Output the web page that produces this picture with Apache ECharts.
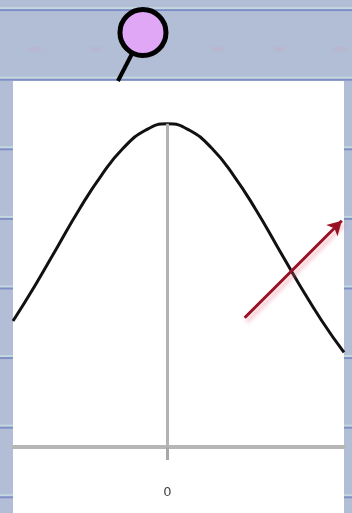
<!DOCTYPE html>
<html>
<head>
<meta charset="utf-8">
<script src="https://cdn.jsdelivr.net/npm/echarts@6/dist/echarts.min.js"></script>
<style>
  html, body { margin: 0; padding: 0; }
  body {
    width: 352px; height: 513px; overflow: hidden;
    background-color: #b2bdd6;
    background-image:
      radial-gradient(ellipse 9px 3.5px at 30px 5px, rgba(205,160,185,0.35) 0%, rgba(205,160,185,0.15) 60%, rgba(178,189,214,0) 100%),
      repeating-linear-gradient(180deg, #b2bdd6 0px, #b2bdd6 66px, #c4d8df 66px, #c4d8df 67.4px, #7f8ec6 67.4px, #7f8ec6 69.6px);
    background-size: 61px 10px, 100% 69.6px;
    background-repeat: repeat-x, repeat;
    background-position: 5px 44px, 0 11.1px;
  }
  #chart { width: 352px; height: 513px; }
</style>
</head>
<body>
<div id="chart"></div>
<script>
// Bell curve sample points
const curveX = [-1.4, -1.2, -1.0, -0.8, -0.6, -0.4, -0.2, 0, 0.2, 0.4, 0.6, 0.8, 1.0, 1.2, 1.4, 1.6];
const curveY = [0.156, 0.200, 0.247, 0.294, 0.336, 0.370, 0.392, 0.400, 0.392, 0.370, 0.336, 0.294, 0.247, 0.200, 0.156, 0.117];

// Axis range and labelled ticks
const xMin = -1.4, xMax = 1.6;
const yMin = 0, yMax = 0.453;
const tickValues = [0];

// Mean marker height, arrow end points, pin (stem end, head)
const meanX = 0, meanY = 0.400;
const arrowFrom = [0.70, 0.160];
const arrowTo = [1.58, 0.280];
const pinStem = [-0.449, 0.453];
const pinHead = [-0.222, 0.513];

const chart = echarts.init(document.getElementById('chart'), null, { renderer: 'canvas' });

chart.setOption({
  backgroundColor: 'transparent',
  animation: false,
  graphic: [{
    type: 'rect', z: 0,
    shape: { x: 13, y: 81, width: 331, height: 432 },
    style: { fill: '#ffffff' }
  }],
  grid: { left: 13, right: 8, top: 81, bottom: 66, containLabel: false },
  xAxis: {
    type: 'value', min: xMin, max: xMax,
    splitLine: { show: false },
    axisLine: { show: true, onZero: false, lineStyle: { color: '#b6b6b6', width: 4 } },
    axisTick: { show: true, customValues: tickValues, length: 13, lineStyle: { color: '#a8a8a8', width: 3 } },
    axisLabel: { show: true, customValues: tickValues, margin: 39, color: '#444', fontSize: 13, fontFamily: 'DejaVu Sans' }
  },
  yAxis: { type: 'value', min: yMin, max: yMax, show: false, splitLine: { show: false } },
  series: [
    {
      type: 'line', z: 3,
      data: curveX.map((x, i) => [x, curveY[i]]),
      smooth: true, showSymbol: false, symbol: 'none',
      lineStyle: { color: '#111', width: 3 },
      markLine: {
        silent: true, symbol: ['none', 'none'], label: { show: false },
        lineStyle: { color: '#b3b3b3', width: 3, type: 'solid' },
        data: [[{ coord: [meanX, 0] }, { coord: [meanX, meanY] }]]
      }
    },
    {
      type: 'line', z: 4,
      data: [arrowFrom, arrowTo],
      showSymbol: false, symbol: 'none',
      lineStyle: { width: 0 },
      markLine: {
        silent: true, symbol: ['none', 'arrow'], symbolSize: [12, 14], label: { show: false },
        lineStyle: {
          color: '#9a1024', width: 3, type: 'solid',
          shadowColor: 'rgba(235,120,140,0.55)', shadowBlur: 4, shadowOffsetX: 2, shadowOffsetY: 4
        },
        data: [[{ coord: arrowFrom }, { coord: arrowTo }]]
      }
    },
    {
      type: 'line', z: 5, clip: false,
      data: [
        { value: pinStem, symbol: 'none' },
        { value: pinHead, symbol: 'circle', symbolSize: 46,
          itemStyle: { color: '#e1a7f7', borderColor: '#000', borderWidth: 5 } }
      ],
      showSymbol: true,
      lineStyle: { color: '#000', width: 4 }
    }
  ]
});
</script>
</body>
</html>
